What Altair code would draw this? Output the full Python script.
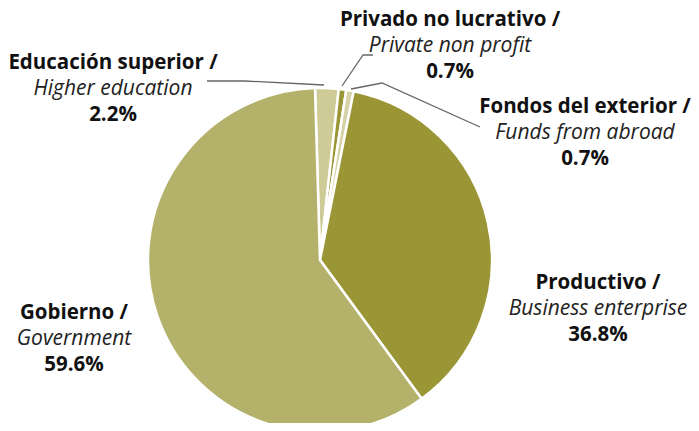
import altair as alt
import pandas as pd

# Data
categories = ["Educación superior", "Privado no lucrativo", "Fondos del exterior", "Productivo", "Gobierno"]
english = ["Higher education", "Private non profit", "Funds from abroad", "Business enterprise", "Government"]
values = [2.2, 0.7, 0.7, 36.8, 59.6]
colors = ["#cecb97", "#9a9636", "#d6d4a6", "#9a9636", "#b4b16b"]

# Layout (pixel positions in chart coordinates; page margin is 8px)
label_x = [105, 442, 577, 590, 66]
label_y = [61, 18, 105, 281, 311]
CX, CY, R = 312, 252, 172

df = pd.DataFrame({"cat": categories, "value": values, "order": list(range(len(values)))})

offset = -0.029
pie = alt.Chart(df).mark_arc(radius=R, stroke="white", strokeWidth=2.5).encode(
    theta=alt.Theta("value:Q", stack=True,
                    scale=alt.Scale(domain=[0, 100], range=[offset, offset + 6.283185307])),
    color=alt.Color("cat:N", scale=alt.Scale(domain=categories, range=colors), legend=None),
    order=alt.Order("order:Q"),
    x=alt.value(CX), y=alt.value(CY),
)

rows = []
for c, e, v, lx, ly in zip(categories, english, values, label_x, label_y):
    rows.append({"t": c + " /", "x": lx, "y": ly, "w": "bold"})
    rows.append({"t": e, "x": lx, "y": ly + 26, "w": "normal"})
    rows.append({"t": f"{v:.1f}%", "x": lx, "y": ly + 52, "w": "bold"})
tdf = pd.DataFrame(rows)

font = "Open Sans"
base = alt.Chart(tdf)
bold = base.transform_filter("datum.w == 'bold'").mark_text(
    font=font, fontSize=20.5, fontWeight="bold", color="#111111", baseline="alphabetic", align="center"
).encode(x=alt.X("x:Q", scale=None), y=alt.Y("y:Q", scale=None), text="t:N")
ital = base.transform_filter("datum.w == 'normal'").mark_text(
    font=font, fontSize=21, fontStyle="italic", color="#222222", baseline="alphabetic", align="center"
).encode(x=alt.X("x:Q", scale=None), y=alt.Y("y:Q", scale=None), text="t:N")

# Leader lines
lines = pd.DataFrame({
    "line": ["a", "a", "a", "b", "b", "b", "c", "c", "c"],
    "k": [0, 1, 2, 0, 1, 2, 0, 1, 2],
    "x": [199, 237, 316, 365, 355, 334, 472, 374, 343],
    "y": [73, 73, 77, 47, 47, 78, 119, 75, 81],
})
leader = alt.Chart(lines).mark_line(color="#666666", strokeWidth=1.3).encode(
    x=alt.X("x:Q", scale=None), y=alt.Y("y:Q", scale=None),
    detail="line:N", order="k:Q",
)

chart = alt.layer(pie, leader, bold, ital).properties(
    width=683, height=415, autosize=alt.AutoSizeParams(type="none"), padding=0
).configure_view(stroke=None)

chart.save("out.html", embed_options={"renderer": "svg", "actions": False})
